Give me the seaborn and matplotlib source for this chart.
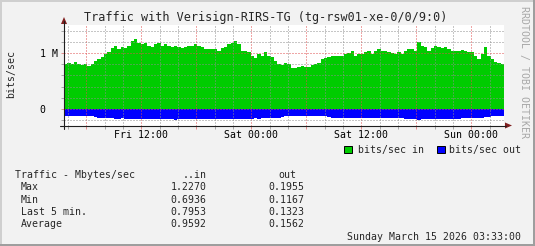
import numpy as np
import pandas as pd
import matplotlib
matplotlib.use("Agg")
import matplotlib.pyplot as plt
from matplotlib.patches import Rectangle, Polygon
from matplotlib.lines import Line2D
import seaborn as sns

W, H = 535, 246

title = "Traffic with Verisign-RIRS-TG (tg-rsw01-xe-0/0/9:0)"
ylabel = "bits/sec"
watermark = "RRDTOOL / TOBI OETIKER"
series_names = ["bits/sec in", "bits/sec out"]
series_colors = ["#00CC00", "#0000FF"]

# time window, hours after Fri 00:00 (Fri 03:33 -> Sun 03:33)
t_start, t_end = 3.55, 51.55

# inbound traffic, M bits/sec, one value per ~22 minutes
in_mbps = [
    0.80, 0.82, 0.80, 0.84, 0.81, 0.78, 0.80, 0.77, 0.81, 0.86,
    0.90, 0.93, 0.99, 1.03, 1.10, 1.14, 1.08, 1.11, 1.10, 1.14,
    1.22, 1.26, 1.18, 1.16, 1.19, 1.14, 1.11, 1.16, 1.18, 1.13,
    1.16, 1.13, 1.12, 1.13, 1.11, 1.10, 1.11, 1.13, 1.14, 1.16,
    1.13, 1.11, 1.08, 1.07, 1.08, 1.07, 1.04, 1.10, 1.11, 1.17,
    1.19, 1.22, 1.16, 1.05, 1.04, 1.02, 0.96, 0.92, 0.99, 0.95,
    1.02, 0.95, 0.93, 0.87, 0.81, 0.78, 0.82, 0.80, 0.74, 0.74,
    0.76, 0.77, 0.75, 0.76, 0.78, 0.81, 0.83, 0.90, 0.92, 0.93,
    0.96, 0.96, 0.95, 0.96, 0.99, 1.01, 1.05, 0.96, 0.99, 0.99,
    1.02, 1.04, 0.99, 1.04, 1.07, 1.05, 1.04, 1.02, 1.01, 0.99,
    1.02, 0.99, 1.05, 1.07, 1.08, 1.05, 1.20, 1.13, 1.11, 1.05,
    1.10, 1.13, 1.11, 1.10, 1.11, 1.08, 1.04, 1.04, 1.04, 1.06,
    1.04, 1.02, 1.03, 0.95, 0.90, 0.98, 1.12, 0.96, 0.90, 0.85,
    0.82, 0.81,
]
# outbound traffic, M bits/sec (drawn below zero)
out_mbps = [
    0.13, 0.14, 0.13, 0.14, 0.13, 0.13, 0.14, 0.13, 0.13, 0.15,
    0.16, 0.17, 0.16, 0.17, 0.17, 0.18, 0.18, 0.17, 0.18, 0.18,
    0.19, 0.18, 0.19, 0.18, 0.18, 0.18, 0.18, 0.18, 0.19, 0.18,
    0.18, 0.18, 0.18, 0.20, 0.18, 0.18, 0.18, 0.19, 0.18, 0.18,
    0.18, 0.19, 0.18, 0.18, 0.18, 0.19, 0.18, 0.18, 0.18, 0.19,
    0.18, 0.18, 0.18, 0.18, 0.19, 0.18, 0.18, 0.17, 0.18, 0.17,
    0.16, 0.17, 0.16, 0.16, 0.16, 0.15, 0.14, 0.14, 0.14, 0.14,
    0.14, 0.14, 0.14, 0.14, 0.14, 0.14, 0.14, 0.14, 0.14, 0.15,
    0.16, 0.17, 0.17, 0.17, 0.16, 0.16, 0.17, 0.16, 0.16, 0.17,
    0.17, 0.16, 0.17, 0.16, 0.17, 0.17, 0.17, 0.17, 0.17, 0.17,
    0.17, 0.17, 0.18, 0.18, 0.18, 0.18, 0.20, 0.18, 0.18, 0.18,
    0.18, 0.18, 0.18, 0.18, 0.18, 0.18, 0.18, 0.18, 0.18, 0.17,
    0.17, 0.17, 0.17, 0.16, 0.16, 0.16, 0.15, 0.15, 0.14, 0.14,
    0.14, 0.14,
]

x_major = [6, 12, 18, 24, 30, 36, 42, 48]
x_labels = ["", "Fri 12:00", "", "Sat 00:00", "", "Sat 12:00", "", "Sun 00:00"]
x_minor = [4, 8, 10, 14, 16, 20, 22, 26, 28, 32, 34, 38, 40, 44, 46, 50]
y_major = [0, 1]
y_labels = ["0  ", "1 M"]
y_minor = [-0.2, 0.2, 0.4, 0.6, 0.8, 1.2, 1.4]
y_range = (-0.303, 1.511)

stat_header = ["Traffic - Mbytes/sec", "..in", "out"]
stat_names = ["Max", "Min", "Last 5 min.", "Average"]
stat_in = ["1.2270", "0.6936", "0.7953", "0.9592"]
stat_out = ["0.1955", "0.1167", "0.1323", "0.1562"]
timestamp = "Sunday March 15 2026 03:33:00"

# colours (rrdtool defaults)
BACK = "#F2F2F2"
SHADEA = "#CFCFCF"
SHADEB = "#9E9E9E"
GRID = (0.56, 0.56, 0.56, 0.75)
MGRID = (0.87, 0.31, 0.31, 0.6)
ARROW = "#801F1F"
AXIS = "#1F1F1F"

sns.set_theme(style="white")
plt.rcParams["font.family"] = ["DejaVu Sans Mono", "DejaVu Sans"]

fig = plt.figure(figsize=(W / 100, H / 100), dpi=100, facecolor=BACK)


def fx(x):
    return x / W


def fy(y):
    return 1 - y / H


left, right, top, bottom = 64, 504, 25, 125.5
ax = fig.add_axes([fx(left), fy(bottom), (right - left) / W, (bottom - top) / H])
ax.set_facecolor("white")

n = len(in_mbps)
step = (t_end - t_start) / n
centers = t_start + step * (np.arange(n) + 0.5)
df = pd.DataFrame({"t": centers, "in": in_mbps, "out": -np.asarray(out_mbps)})

sns.histplot(data=df, x="t", weights="in", bins=n, binrange=(t_start, t_end),
             element="step", fill=True, color=series_colors[0], alpha=1, linewidth=0, ax=ax)
sns.histplot(data=df, x="t", weights="out", bins=n, binrange=(t_start, t_end),
             element="step", fill=True, color=series_colors[1], alpha=1, linewidth=0, ax=ax)

ax.set_xlim(t_start, t_end)
ax.set_ylim(*y_range)
ax.set_xlabel("")
ax.set_ylabel("")

ax.set_xticks(x_major)
ax.set_xticklabels(x_labels)
ax.set_xticks(x_minor, minor=True)
ax.set_yticks(y_major)
ax.set_yticklabels(y_labels)
ax.set_yticks(y_minor, minor=True)

dot = (0, (1, 2))
ax.set_axisbelow(False)
ax.grid(True, which="major", color=MGRID, linestyle=dot, linewidth=0.72)
ax.grid(True, which="minor", color=GRID, linestyle=dot, linewidth=0.72)

ax.tick_params(axis="both", which="major", length=2, width=0.72, color=MGRID,
               labelsize=7.1, labelcolor="black")
ax.tick_params(axis="both", which="minor", length=2, width=0.72, color=GRID)
ax.tick_params(axis="x", which="major", pad=1.5)
ax.tick_params(axis="y", which="major", pad=2.2)
ax.tick_params(axis="x", which="both", bottom=True)
ax.tick_params(axis="y", which="both", left=True)
for s in ax.spines.values():
    s.set_visible(False)

# axes lines + arrows
tf = fig.transFigure
fig.add_artist(Line2D([fx(60), fx(506)], [fy(bottom), fy(bottom)], color=AXIS, lw=0.8, transform=tf))
fig.add_artist(Line2D([fx(left), fx(left)], [fy(129), fy(21)], color=AXIS, lw=0.8, transform=tf))
fig.add_artist(Polygon([(fx(505), fy(bottom - 3)), (fx(512), fy(bottom)), (fx(505), fy(bottom + 3))],
                       closed=True, color=ARROW, transform=tf, lw=0))
fig.add_artist(Polygon([(fx(left - 3), fy(24)), (fx(left), fy(17)), (fx(left + 3), fy(24))],
                       closed=True, color=ARROW, transform=tf, lw=0))

# frame shading
fig.add_artist(Rectangle((0, fy(2)), 1, 2 / H, color=SHADEA, transform=tf, lw=0))
fig.add_artist(Rectangle((0, 0), 2 / W, 1, color=SHADEA, transform=tf, lw=0))
fig.add_artist(Rectangle((0, 0), 1, 2 / H, color=SHADEB, transform=tf, lw=0))
fig.add_artist(Rectangle((fx(533), 0), 2 / W, 1, color=SHADEB, transform=tf, lw=0))

# texts
fig.text(fx(266), fy(21), title, ha="center", va="baseline", fontsize=8.5)
fig.text(fx(11), fy(74), ylabel, ha="center", va="center", rotation=90, fontsize=7.1)
fig.text(fx(524.5), fy(71.5), watermark, ha="center", va="center", rotation=270,
         fontsize=7.1, color="#A8A8A8")

# legend
leg_boxes = [344, 437]
leg_text_x = [357.7, 449]
for bx, tx, name, col in zip(leg_boxes, leg_text_x, series_names, series_colors):
    fig.add_artist(Rectangle((fx(bx), fy(153)), 7.5 / W, 7.5 / H, facecolor=col,
                             edgecolor="black", lw=0.7, transform=tf))
    fig.text(fx(tx), fy(153), name, ha="left", va="baseline", fontsize=7.1)

# statistics table
fig.text(fx(15), fy(178), stat_header[0], ha="left", va="baseline", fontsize=7.1)
fig.text(fx(206.4), fy(178), stat_header[1], ha="right", va="baseline", fontsize=7.1)
fig.text(fx(287.3), fy(178), stat_header[2], ha="center", va="baseline", fontsize=7.1)
for i, (nm, vi, vo) in enumerate(zip(stat_names, stat_in, stat_out)):
    yb = 190.5 + i * 12.25
    fig.text(fx(21), fy(yb), nm, ha="left", va="baseline", fontsize=7.1)
    fig.text(fx(206.4), fy(yb), vi, ha="right", va="baseline", fontsize=7.1)
    fig.text(fx(304), fy(yb), vo, ha="right", va="baseline", fontsize=7.1)
fig.text(fx(521), fy(239.6), timestamp, ha="right", va="baseline", fontsize=7.1)

fig.savefig("out.png", dpi=100, facecolor=BACK)
